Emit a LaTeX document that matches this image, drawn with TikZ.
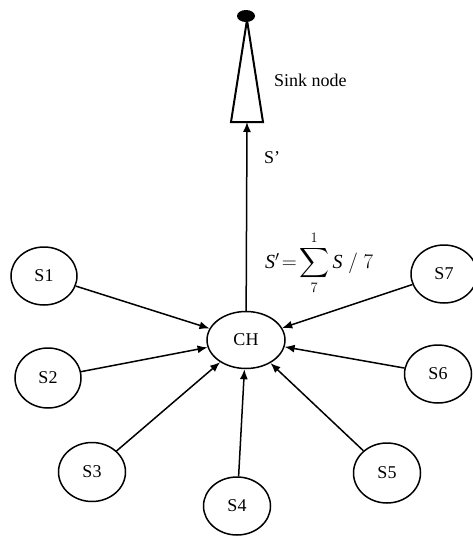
\documentclass[tikz,border=0pt]{standalone}
\usepackage{exscale}
\usepackage{fontspec}
\setmainfont{Liberation Serif}
\usetikzlibrary{shapes.geometric,arrows.meta}
\begin{document}
\begin{tikzpicture}[x=1pt,y=-1pt,
  snode/.style={draw,ellipse,line width=1.5pt,minimum width=66pt,minimum height=58pt,inner sep=0pt,font=\fontsize{18}{21}\selectfont},
  link/.style={line width=1.5pt,-{Latex[length=10pt,width=8pt]}},
  lbl/.style={font=\fontsize{18}{21}\selectfont,inner sep=0pt}]
\useasboundingbox (0,0) rectangle (472,536);
\node[snode,minimum width=78pt,minimum height=57pt] (CH) at (246,340) {CH};
\node[snode] (S1) at (44,276) {S1};
\node[snode,minimum height=60pt] (S2) at (48,378) {S2};
\node[snode,minimum width=67pt,minimum height=59pt] (S3) at (92,472) {S3};
\node[snode,minimum width=67pt] (S4) at (237,506) {S4};
\node[snode,minimum width=67pt,minimum height=60pt] (S5) at (387,473) {S5};
\node[snode,minimum width=67pt] (S6) at (438,374) {S6};
\node[snode] (S7) at (444,274) {S7};
\foreach \s in {S1,S2,S3,S4,S5,S6,S7} \draw[link] (\s) -- (CH);
% sink
\node[ellipse,fill=black,minimum width=18pt,minimum height=12pt,inner sep=0pt] (sink) at (246,16) {};
\coordinate (apex) at (247,20);
\coordinate (bl) at (231,122);
\coordinate (br) at (263,122);
\coordinate (sinkbase) at (247,122);
\draw[line width=2pt,line join=miter] (apex) -- (bl) -- (br) -- cycle;
\draw[link] (CH) -- (sinkbase);
\node[lbl,anchor=west] (sinklbl) at (274,80) {Sink node};
\node[lbl,anchor=west] (sp) at (264,158) {S’};
\node[lbl,anchor=west,font=\fontsize{20}{23}\selectfont] (formula) at (265,263) {$\mathit{S}'\!=\!\displaystyle\sum_{7}^{1}\mathit{S}\;/\;7$};
\end{tikzpicture}
\end{document}
